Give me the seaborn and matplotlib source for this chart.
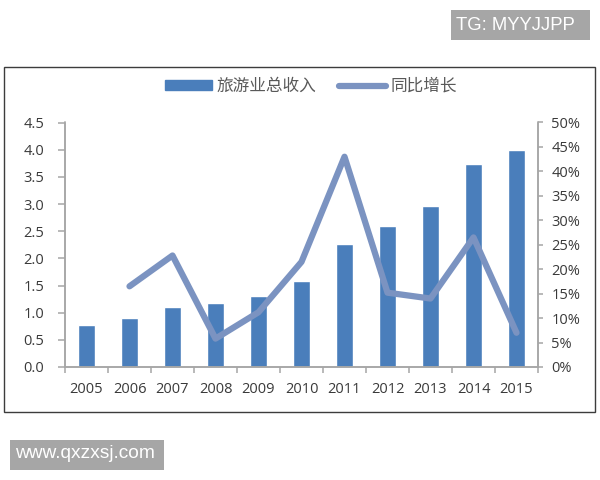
"""Tourism revenue bars with year-on-year growth line."""
import matplotlib.pyplot as plt
import numpy as np
import pandas as pd
import seaborn as sns
from matplotlib.lines import Line2D
from matplotlib.patches import Patch, Rectangle

years = ["2005", "2006", "2007", "2008", "2009", "2010", "2011", "2012", "2013", "2014", "2015"]
revenue = [0.78, 0.90, 1.11, 1.18, 1.30, 1.58, 2.26, 2.60, 2.96, 3.74, 4.00]
growth = [np.nan, 16.5, 22.8, 5.8, 11.2, 21.5, 43.0, 15.2, 14.0, 26.5, 7.0]
left_ticks = [0.0, 0.5, 1.0, 1.5, 2.0, 2.5, 3.0, 3.5, 4.0, 4.5]
right_ticks = [0, 5, 10, 15, 20, 25, 30, 35, 40, 45, 50]

BAR_COLOR = "#4a7ebb"
LINE_COLOR = "#7b93c1"
AXIS_COLOR = "#a6a6a6"
TEXT_COLOR = "#3a3a3a"
TICK_SIZE = 10.5
W, H = 600, 480

sns.set_theme(style="white")
plt.rcParams["font.family"] = ["Open Sans", "Noto Sans CJK SC", "DejaVu Sans"]

df = pd.DataFrame({"year": years, "revenue": revenue, "growth": growth})

fig = plt.figure(figsize=(W / 100, H / 100), dpi=100, facecolor="white")
ax = fig.add_axes([65 / W, 1 - 367 / H, (538 - 65) / W, (367 - 122.5) / H])

sns.barplot(data=df, x="year", y="revenue", color=BAR_COLOR, saturation=1, width=0.4, ax=ax)
ax.set_ylim(0, 4.5)
ax.set_yticks(left_ticks)
ax.set_yticklabels([f"{t:.1f}" for t in left_ticks])

ax2 = ax.twinx()
sns.pointplot(data=df, x="year", y="growth", color=LINE_COLOR, markers="", linewidth=4.5, errorbar=None, ax=ax2)
for line in ax2.lines:
    line.set_solid_capstyle("round")
    line.set_solid_joinstyle("round")
ax2.set_ylim(0, 50)
ax2.set_yticks(right_ticks)
ax2.set_yticklabels([f"{t}%" for t in right_ticks])
ax.set_xlim(-0.5, len(years) - 0.5)
ax2.set_xlim(-0.5, len(years) - 0.5)

# category ticks sit between the bars, labels stay centred
ax.set_xticks(np.arange(len(years) + 1) - 0.5)
ax.set_xticklabels([])
ax.set_xticks(np.arange(len(years)), labels=years, minor=True)
ax.tick_params(axis="x", which="major", direction="out", length=4, width=1.1, color=AXIS_COLOR, bottom=True)
ax.tick_params(axis="x", which="minor", length=0, bottom=False, pad=11, labelsize=TICK_SIZE, labelcolor=TEXT_COLOR)
ax.tick_params(axis="y", direction="out", length=5, width=1.1, color=AXIS_COLOR, left=True, pad=10,
               labelsize=TICK_SIZE, labelcolor=TEXT_COLOR)
ax2.tick_params(axis="y", direction="out", length=3.5, width=1.1, color=AXIS_COLOR, right=True, pad=6,
                labelsize=TICK_SIZE, labelcolor=TEXT_COLOR)
ax.set_xlabel("")
ax.set_ylabel("")
ax2.set_xlabel("")
ax2.set_ylabel("")

for a in (ax, ax2):
    a.patch.set_visible(False)
    a.spines["top"].set_visible(False)
    for side in ("left", "right", "bottom"):
        a.spines[side].set_color(AXIS_COLOR)
        a.spines[side].set_linewidth(1.1)

handles = [
    Patch(color=BAR_COLOR, label="旅游业总收入"),
    Line2D([0], [0], color=LINE_COLOR, lw=4.5, solid_capstyle="round", label="同比增长"),
]
fig.legend(handles=handles, loc="center", bbox_to_anchor=(311 / W, 1 - 87 / H), ncol=2, frameon=False,
           fontsize=12, labelcolor="#595959", handlelength=2.8, handleheight=0.55, handletextpad=0.3,
           columnspacing=1.35, borderpad=0)

# outer chart frame
fig.add_artist(Rectangle((3.5 / W, 1 - 412 / H), (595 - 3.5) / W, (412 - 67) / H, transform=fig.transFigure,
                         fill=False, edgecolor="#3c3c3c", linewidth=1.0))

# watermark labels
fig.add_artist(Rectangle((451 / W, 1 - 40 / H), 139 / W, 30 / H, transform=fig.transFigure,
                         facecolor="#a6a6a6", edgecolor="none"))
fig.text(456 / W, 1 - 25 / H, "TG: MYYJJPP", color="white", fontsize=13.3, va="center", family="Liberation Sans")
fig.add_artist(Rectangle((10 / W, 1 - 470 / H), 154 / W, 30 / H, transform=fig.transFigure,
                         facecolor="#a6a6a6", edgecolor="none"))
fig.text(15 / W, 1 - 454 / H, "www.qxzxsj.com", color="white", fontsize=13.8, va="center", family="Liberation Sans")

fig.savefig("out.png", dpi=100)
